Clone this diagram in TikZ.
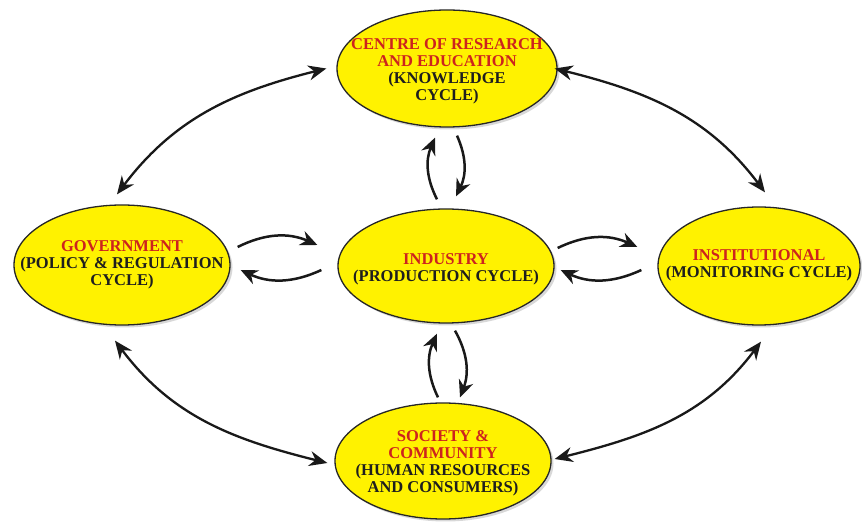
\documentclass[tikz,border=0pt]{standalone}
\usepackage{fontspec}
\setmainfont{Liberation Serif}
\usetikzlibrary{shapes.geometric,arrows.meta,shadows,calc}
\definecolor{ellfill}{RGB}{255,242,0}
\definecolor{titlered}{RGB}{205,35,30}
\definecolor{textdark}{RGB}{30,30,30}
\begin{document}
\begin{tikzpicture}[x=1pt,y=1pt,
  ell/.style={ellipse, draw=black!85, line width=1.3pt, fill=ellfill, inner sep=0pt,
    drop shadow={opacity=0.3, shadow xshift=2.5pt, shadow yshift=-2.5pt}},
  lbl/.style={align=center, text=textdark, inner sep=0pt,
    font=\fontsize{16.5}{17}\selectfont\bfseries},
  big/.style={line width=2.3pt, black!90, {Stealth[length=18pt,width=15pt]}-{Stealth[length=18pt,width=15pt]}},
  sm/.style={line width=2.5pt, black!90, -{Stealth[length=17pt,width=15pt]}}
]
\useasboundingbox (0,0) rectangle (862,522);
\fill[white] (0,0) rectangle (862,522);

\node[ell, minimum width=220pt, minimum height=117pt] (top) at (447,453.5) {};
\node[ell, minimum width=216pt, minimum height=120pt] (gov) at (122,257) {};
\node[ell, minimum width=216pt, minimum height=114pt] (ind) at (446,256) {};
\node[ell, minimum width=202pt, minimum height=118pt] (inst) at (759,256) {};
\node[ell, minimum width=216pt, minimum height=116pt] (soc) at (443,61) {};

\node[lbl] (topt) at ([yshift=-3pt]top.center)
  {\textcolor{titlered}{CENTRE OF RESEARCH}\\\textcolor{titlered}{AND EDUCATION}\\(KNOWLEDGE\\CYCLE)};
\node[lbl] (govt) at (gov.center)
  {\textcolor{titlered}{GOVERNMENT}\\(POLICY \& REGULATION\\CYCLE)};
\node[lbl] (indt) at ([yshift=-3pt]ind.center)
  {\textcolor{titlered}{INDUSTRY}\\(PRODUCTION CYCLE)};
\node[lbl] (instt) at ([yshift=1pt]inst.center)
  {\textcolor{titlered}{INSTITUTIONAL}\\(MONITORING CYCLE)};
\node[lbl] (soct) at ([yshift=-2pt]soc.center)
  {\textcolor{titlered}{SOCIETY \&}\\\textcolor{titlered}{COMMUNITY}\\(HUMAN RESOURCES\\AND CONSUMERS)};

% big outer arrows
\draw[big] ([xshift=-10pt]top.west) to[out=194,in=53] ([xshift=-5pt,yshift=10pt]gov.north);
\draw[big] ([xshift=-3pt]top.east) to[out=-14,in=127] ([xshift=6pt,yshift=14pt]inst.north);
\draw[big] ([xshift=-7pt,yshift=-15pt]gov.south) to[out=-53,in=166] ([xshift=-7pt,yshift=-2pt]soc.west);
\draw[big] ([xshift=2pt,yshift=-16pt]inst.south) to[out=233,in=14] ([xshift=3pt,yshift=2pt]soc.east);

% industry <-> research
\draw[sm] ([xshift=-9pt,yshift=9pt]ind.north) to[bend left=25] ([xshift=-12pt,yshift=-10pt]top.south);
\draw[sm] ([xshift=10pt,yshift=-8pt]top.south) to[bend left=25] ([xshift=10pt,yshift=12pt]ind.north);

% industry <-> society
\draw[sm] ([xshift=-5pt,yshift=5pt]soc.north) to[bend left=25] ([xshift=-9pt,yshift=-10pt]ind.south);
\draw[sm] ([xshift=9pt,yshift=-7pt]ind.south) to[bend left=25] ([xshift=17pt,yshift=5pt]soc.north);

% government <-> industry
\draw[sm] ([xshift=7pt,yshift=18pt]gov.east) to[bend left=25] ([xshift=-20pt,yshift=21pt]ind.west);
\draw[sm] ([xshift=-16pt,yshift=-4pt]ind.west) to[bend left=25] ([xshift=10pt,yshift=-5pt]gov.east);

% industry <-> institutional
\draw[sm] ([xshift=3pt,yshift=18pt]ind.east) to[bend left=25] ([xshift=-20pt,yshift=19pt]inst.west);
\draw[sm] ([xshift=-16pt,yshift=-4pt]inst.west) to[bend left=25] ([xshift=6pt,yshift=-4pt]ind.east);
\end{tikzpicture}
\end{document}
